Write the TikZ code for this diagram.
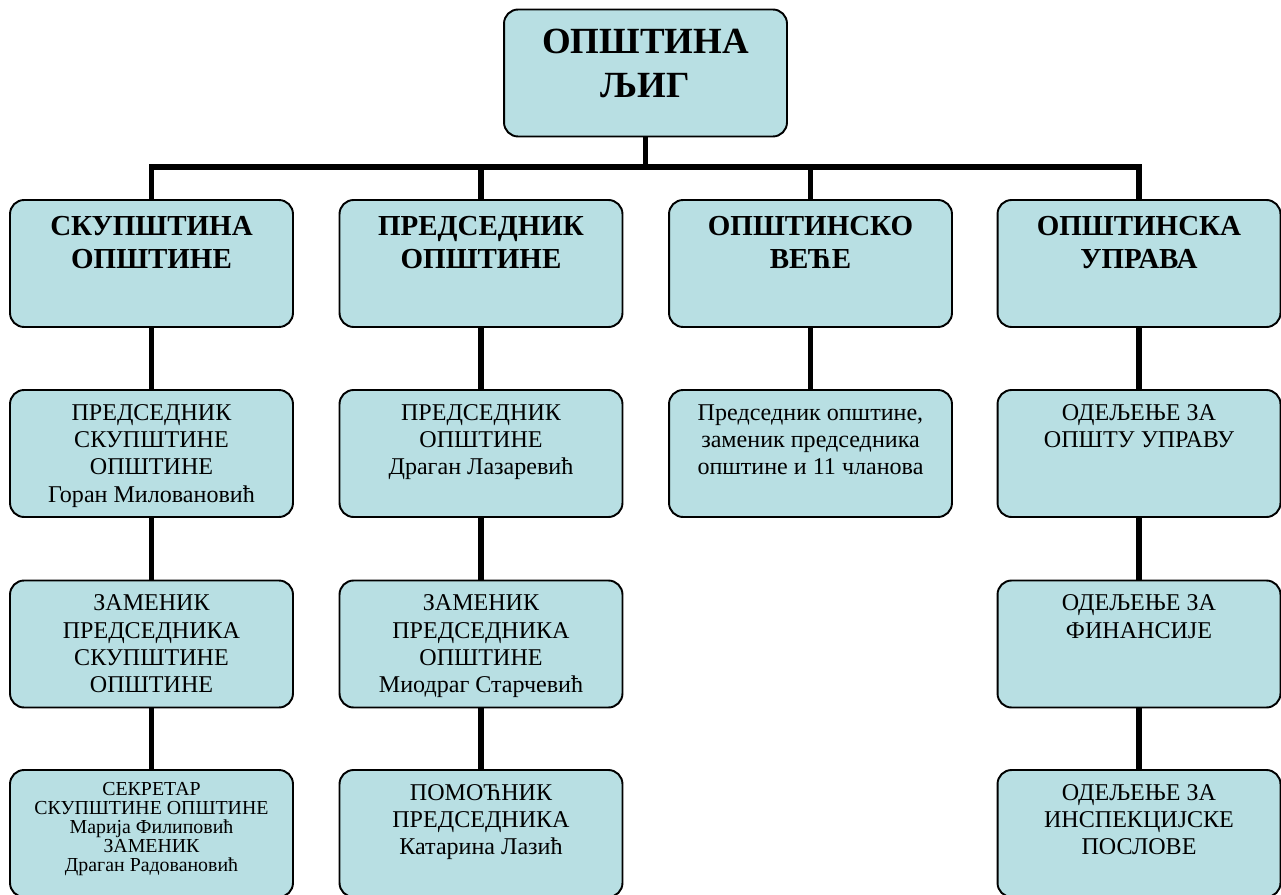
\documentclass[tikz,border=0pt]{standalone}
\usepackage{fontspec}
\setmainfont{Liberation Serif}
\usetikzlibrary{positioning}
\definecolor{boxblue}{RGB}{184,223,227}
\tikzset{
  unit/.style={draw, fill=boxblue, line width=1.1pt, rounded corners=8pt,
               minimum width=5.66cm, minimum height=2.54cm, inner sep=0pt},
  link/.style={line width=3pt},
  toptext/.style={inner sep=0pt, align=center, font=\fontsize{21}{25}\selectfont\bfseries},
  headtext/.style={inner sep=0pt, align=center, font=\fontsize{16.5}{18.7}\selectfont\bfseries},
  bodytext/.style={inner sep=0pt, align=center, font=\fontsize{13.7}{15.5}\selectfont},
  smalltext/.style={inner sep=0pt, align=center, font=\fontsize{11.3}{10.8}\selectfont}
}
\begin{document}
\begin{tikzpicture}[x=0.02cm, y=-0.02cm]
      \useasboundingbox (0, 0) rectangle (1281, 895);
      % connectors first, boxes drawn over them
      \coordinate (bar) at (645.5, 167);
      % boxes
      \node [unit] (ljig)     at (645.5, 73) {};
      \node [unit] (skup)     at (151.5, 263.5) {};
      \node [unit] (pred)     at (481, 263.5) {};
      \node [unit] (vece)     at (810.5, 263.5) {};
      \node [unit] (uprava)   at (1139, 263.5) {};
      \node [unit] (skpred)   at (151.5, 453.5) {};
      \node [unit] (skzam)    at (151.5, 644) {};
      \node [unit] (sksek)    at (151.5, 833.5) {};
      \node [unit] (prpred)   at (481, 453.5) {};
      \node [unit] (przam)    at (481, 644) {};
      \node [unit] (prpom)    at (481, 833.5) {};
      \node [unit] (vecclan)  at (810.5, 453.5) {};
      \node [unit] (upopsta)  at (1139, 453.5) {};
      \node [unit] (upfin)    at (1139, 644) {};
      \node [unit] (upinsp)   at (1139, 833.5) {};
      % texts
      \node [toptext, below=0.4cm of ljig.north] (ljigt) {ОПШТИНА\\ЉИГ};
      \node [headtext, below=0.34cm of skup.north] (skupt) {СКУПШТИНА\\ОПШТИНЕ};
      \node [headtext, below=0.34cm of pred.north] (predt) {ПРЕДСЕДНИК\\ОПШТИНЕ};
      \node [headtext, below=0.34cm of vece.north] (vecet) {ОПШТИНСКО\\ВЕЋЕ};
      \node [headtext, below=0.34cm of uprava.north] (upravat) {ОПШТИНСКА\\УПРАВА};
      \node [bodytext, below=0.3cm of skpred.north] (skpredt) {ПРЕДСЕДНИК\\СКУПШТИНЕ\\ОПШТИНЕ\\Горан Миловановић};
      \node [bodytext, below=0.3cm of skzam.north] (skzamt) {ЗАМЕНИК\\ПРЕДСЕДНИКА\\СКУПШТИНЕ\\ОПШТИНЕ};
      \node [smalltext, below=0.26cm of sksek.north] (sksekt) {СЕКРЕТАР\\СКУПШТИНЕ ОПШТИНЕ\\Марија Филиповић\\ЗАМЕНИК\\Драган Радовановић};
      \node [bodytext, below=0.3cm of prpred.north] (prpredt) {ПРЕДСЕДНИК\\ОПШТИНЕ\\Драган Лазаревић};
      \node [bodytext, below=0.3cm of przam.north] (przamt) {ЗАМЕНИК\\ПРЕДСЕДНИКА\\ОПШТИНЕ\\Миодраг Старчевић};
      \node [bodytext, below=0.3cm of prpom.north] (prpomt) {ПОМОЋНИК\\ПРЕДСЕДНИКА\\Катарина Лазић};
      \node [bodytext, below=0.3cm of vecclan.north] (vecclant) {Председник општине,\\заменик председника\\општине и 11 чланова};
      \node [bodytext, below=0.3cm of upopsta.north] (upopstat) {ОДЕЉЕЊЕ ЗА\\ОПШТУ УПРАВУ};
      \node [bodytext, below=0.3cm of upfin.north] (upfint) {ОДЕЉЕЊЕ ЗА\\ФИНАНСИЈЕ};
      \node [bodytext, below=0.3cm of upinsp.north] (upinspt) {ОДЕЉЕЊЕ ЗА\\ИНСПЕКЦИЈСКЕ\\ПОСЛОВЕ};
      % connectors
      \draw [link] (ljig.south) -- (bar);
      \draw [link] (skup.north) -- (skup.north |- bar) -- (uprava.north |- bar) -- (uprava.north);
      \draw [link] (pred.north) -- (pred.north |- bar);
      \draw [link] (vece.north) -- (vece.north |- bar);
      \draw [link] (skup.south) -- (skpred.north)
                   (skpred.south) -- (skzam.north)
                   (skzam.south) -- (sksek.north);
      \draw [link] (pred.south) -- (prpred.north)
                   (prpred.south) -- (przam.north)
                   (przam.south) -- (prpom.north);
      \draw [link] (vece.south) -- (vecclan.north);
      \draw [link] (uprava.south) -- (upopsta.north)
                   (upopsta.south) -- (upfin.north)
                   (upfin.south) -- (upinsp.north);
\end{tikzpicture}
\end{document}
